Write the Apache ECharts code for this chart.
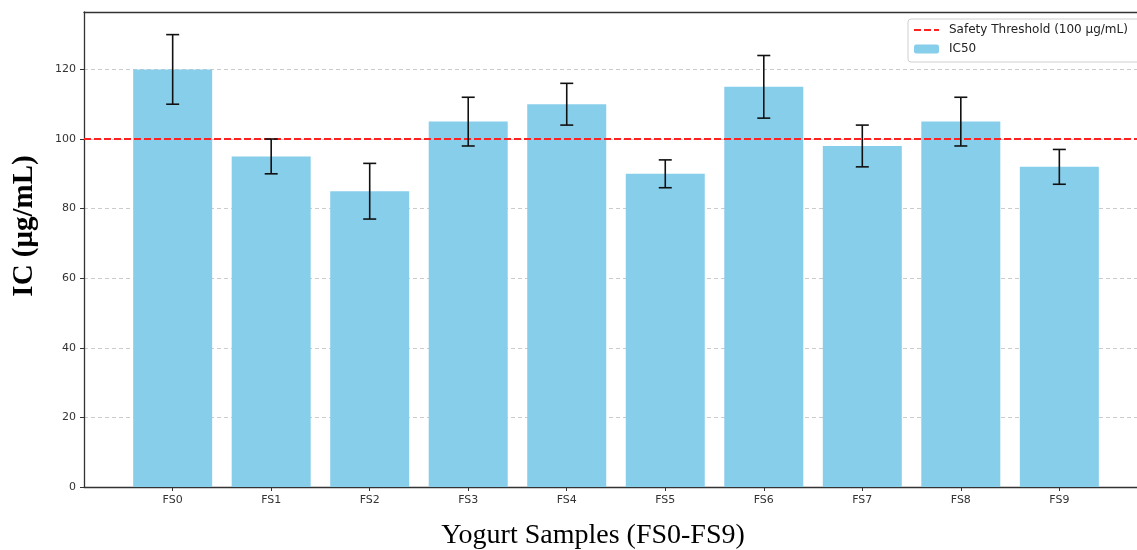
<!DOCTYPE html>
<html>
<head>
<meta charset="utf-8">
<script src="https://cdn.jsdelivr.net/npm/echarts@6/dist/echarts.min.js"></script>
<style>html,body{margin:0;padding:0;background:#fff;}#c{width:1137px;height:550px;}</style>
</head>
<body>
<div id="c"></div>
<script>
const categories = ['FS0','FS1','FS2','FS3','FS4','FS5','FS6','FS7','FS8','FS9'];
const ic50Values = [120, 95, 85, 105, 110, 90, 115, 98, 105, 92];
const ic50Errors = [10, 5, 8, 7, 6, 4, 9, 6, 7, 5];
const threshold = 100;
const yTicks = [0, 20, 40, 60, 80, 100, 120];

const xMin = -0.9, xMax = 9.9;
const positions = categories.map((c, i) => i);
const barData = ic50Values.map((v, i) => [i, v]);
const errData = ic50Values.map((v, i) => [i, v - ic50Errors[i], v + ic50Errors[i]]);
const threshData = [[xMin, threshold], [xMax, threshold]];

const chart = echarts.init(document.getElementById('c'), null, {renderer: 'canvas'});
const tickFont = {fontFamily: 'DejaVu Sans', fontSize: 11, color: '#333'};
chart.setOption({
  animation: false,
  backgroundColor: '#fff',
  grid: {left: 84, top: 12, width: 1064, height: 475, outerBoundsMode: 'none', containLabel: false},
  legend: {
    orient: 'vertical', left: 908, top: 19,
    data: [
      {name: 'Safety Threshold (100 μg/mL)', itemStyle: {color: 'rgba(0,0,0,0)', borderWidth: 0, opacity: 0}},
      {name: 'IC50'}
    ],
    itemWidth: 25, itemHeight: 9, itemGap: 7,
    padding: [5, 14, 7, 5],
    borderColor: '#d0d0d0', borderWidth: 1, borderRadius: 3,
    backgroundColor: 'rgba(255,255,255,0.8)',
    textStyle: {fontFamily: 'DejaVu Sans', fontSize: 12, color: '#222', padding: [0, 0, 0, 5]}
  },
  xAxis: [{
    type: 'value', min: xMin, max: xMax,
    axisLine: {show: true, onZero: false, lineStyle: {color: '#333', width: 1.3}},
    axisTick: {show: true, length: 4, customValues: positions, lineStyle: {color: '#333', width: 1}},
    axisLabel: Object.assign({customValues: positions, margin: 8,
      formatter: v => categories[Math.round(v)] || ''}, tickFont),
    splitLine: {show: false}
  }, {
    type: 'value', min: xMin, max: xMax, position: 'top',
    axisLine: {show: true, onZero: false, lineStyle: {color: '#333', width: 1.3}},
    axisTick: {show: false}, axisLabel: {show: false}, splitLine: {show: false}
  }],
  yAxis: {
    type: 'value', min: 0, max: 136.5, interval: 20,
    axisLine: {show: true, onZero: false, lineStyle: {color: '#333', width: 1.3}},
    axisTick: {show: true, length: 4, customValues: yTicks, lineStyle: {color: '#333', width: 1}},
    axisLabel: Object.assign({customValues: yTicks, margin: 8}, tickFont),
    splitLine: {show: true, lineStyle: {color: '#cccccc', type: [4, 3], width: 1}}
  },
  graphic: [{
    type: 'text', x: 593, y: 536,
    style: {text: 'Yogurt Samples (FS0-FS9)', fontFamily: 'Liberation Serif', fontSize: 28,
      fill: '#000', align: 'center', verticalAlign: 'middle'}
  }, {
    type: 'text', x: 25, y: 226, rotation: Math.PI / 2,
    style: {text: 'IC (μg/mL)', fontFamily: 'Liberation Serif', fontWeight: 'bold', fontSize: 29,
      fill: '#000', align: 'center', verticalAlign: 'middle'}
  }],
  series: [{
    name: 'IC50', type: 'bar', data: barData, barWidth: 79,
    itemStyle: {color: '#87CEEB'}, z: 2
  }, {
    name: 'Safety Threshold (100 μg/mL)', type: 'line', data: threshData,
    symbol: 'none', showSymbol: false,
    lineStyle: {color: '#ff2020', width: 2, type: [7, 3]},
    itemStyle: {color: '#ff2020'}, z: 3
  }, {
    name: 'err', type: 'custom', data: errData, z: 4,
    renderItem: function (params, api) {
      const x = api.value(0);
      const lo = api.coord([x, api.value(1)]);
      const hi = api.coord([x, api.value(2)]);
      const hw = 6.5;
      const st = {stroke: '#111', lineWidth: 1.6, fill: null};
      return {type: 'group', children: [
        {type: 'line', shape: {x1: lo[0], y1: lo[1], x2: hi[0], y2: hi[1]}, style: st},
        {type: 'line', shape: {x1: lo[0] - hw, y1: lo[1], x2: lo[0] + hw, y2: lo[1]}, style: st},
        {type: 'line', shape: {x1: hi[0] - hw, y1: hi[1], x2: hi[0] + hw, y2: hi[1]}, style: st}
      ]};
    }
  }]
});
</script>
</body>
</html>
